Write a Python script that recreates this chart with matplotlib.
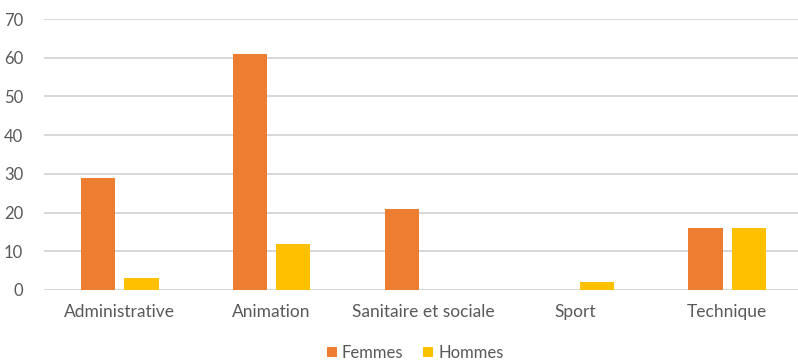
import numpy as np
import matplotlib.pyplot as plt

# Données
categories = ["Administrative", "Animation", "Sanitaire et sociale", "Sport", "Technique"]
femmes = [29, 61, 21, 0, 16]
hommes = [3, 12, 0, 2, 16]

plt.rcParams['font.family'] = ['Lato', 'DejaVu Sans']
gris = '#595959'

fig = plt.figure(figsize=(7.98, 3.63), dpi=100)
ax = fig.add_axes([44 / 798, 73 / 363, 759 / 798, 271 / 363])

x = np.arange(len(categories))
largeur = 0.225
ax.bar(x - 0.142, femmes, largeur, color='#ED7D31', label='Femmes', zorder=3)
ax.bar(x + 0.142, hommes, largeur, color='#FFC000', label='Hommes', zorder=3)

ax.set_xlim(-0.5, len(categories) - 0.5)
ax.set_ylim(0, 70)
ax.set_yticks(range(0, 71, 10))
ax.set_xticks(x)
ax.set_xticklabels(categories)
ax.grid(axis='y', color='#d4d4d4', linewidth=1.3, zorder=0)
ax.tick_params(length=0, colors=gris, labelsize=12)
ax.tick_params(axis='x', labelsize=12.5, pad=10)
ax.tick_params(axis='y', pad=15)
for s in ax.spines.values():
    s.set_visible(False)

ax.legend(loc='center', bbox_to_anchor=(415 / 798, 10 / 363), bbox_transform=fig.transFigure,
          ncol=2, frameon=False, fontsize=12, labelcolor=gris,
          handlelength=0.6, handleheight=0.6, handletextpad=0.3, columnspacing=1.2)

fig.savefig('out.png', dpi=100)
